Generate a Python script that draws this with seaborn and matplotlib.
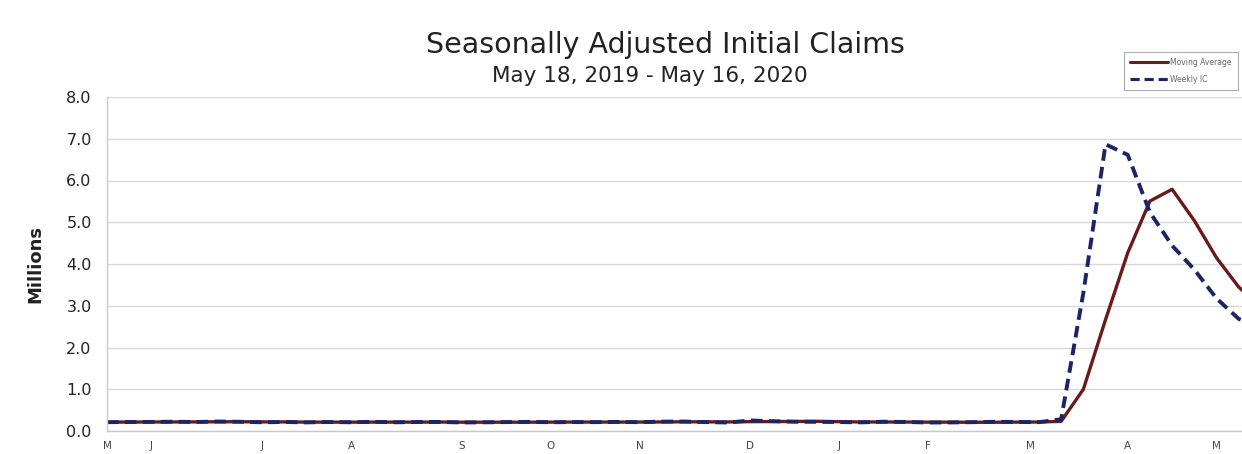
import matplotlib
matplotlib.use("Agg")
import matplotlib.pyplot as plt
import matplotlib.ticker as mticker
from matplotlib.lines import Line2D
import numpy as np
import pandas as pd
import seaborn as sns

# Weekly observations, week ending May 18, 2019 through May 16, 2020 (millions)
weeks = pd.date_range("2019-05-18", "2020-05-16", freq="7D")
weekly_ic = [
    0.211, 0.215, 0.218, 0.222, 0.216, 0.227, 0.221, 0.209, 0.216, 0.206,
    0.215, 0.209, 0.220, 0.209, 0.215, 0.217, 0.204, 0.208, 0.213, 0.219,
    0.210, 0.214, 0.212, 0.218, 0.211, 0.225, 0.227, 0.213, 0.203, 0.252,
    0.235, 0.222, 0.220, 0.214, 0.207, 0.223, 0.216, 0.203, 0.205, 0.211,
    0.220, 0.217, 0.211, 0.282, 3.307, 6.867, 6.615, 5.237, 4.442, 3.867,
    3.176, 2.687, 2.438,
]
moving_avg = [
    0.213, 0.214, 0.216, 0.217, 0.218, 0.221, 0.222, 0.218, 0.218, 0.213,
    0.212, 0.212, 0.213, 0.213, 0.213, 0.215, 0.211, 0.211, 0.211, 0.211,
    0.213, 0.214, 0.214, 0.214, 0.214, 0.217, 0.220, 0.219, 0.217, 0.224,
    0.226, 0.228, 0.232, 0.223, 0.216, 0.216, 0.215, 0.212, 0.212, 0.209,
    0.210, 0.213, 0.215, 0.232, 0.998, 2.667, 4.268, 5.507, 5.790, 5.040,
    4.150, 3.450, 2.950,
]
month_letters = ["M", "J", "J", "A", "S", "O", "N", "D", "J", "F", "M", "A", "M"]
month_weeks = [0, 2, 7, 11, 16, 20, 24, 29, 33, 37, 41.6, 46, 50]
y_ticks = [0, 1, 2, 3, 4, 5, 6, 7, 8]

df = pd.DataFrame({
    "week": np.arange(len(weeks)),
    "Moving Average": moving_avg,
    "Weekly IC": weekly_ic,
}).melt(id_vars="week", var_name="series", value_name="claims")

sns.set_theme(style="white")
plt.rcParams["font.family"] = ["DejaVu Sans"]

fig = plt.figure(figsize=(12.42, 4.54), dpi=100)
ax = fig.add_axes([107 / 1242, 23 / 454, (1242 - 107) / 1242, 334 / 454])

ma_color = "#6b1a1a"
ic_color = "#1c2466"
palette = {"Moving Average": ma_color, "Weekly IC": ic_color}
sns.lineplot(
    data=df, x="week", y="claims", hue="series", style="series",
    palette=palette, dashes={"Moving Average": "", "Weekly IC": (3.0, 1.6)},
    linewidth=2.4, ax=ax, legend=False,
)
for line in ax.lines:
    if line.get_linestyle() == "--":
        line.set_linewidth(2.8)

ax.set_xlim(0, 51.15)
ax.set_ylim(0, 8)
ax.set_yticks(y_ticks)
ax.yaxis.set_major_formatter(mticker.FormatStrFormatter("%.1f"))
ax.tick_params(axis="y", labelsize=11.5, colors="#222222", length=5,
               width=0.8, direction="out", pad=6)
ax.tick_params(axis="y", color="#c0c0c0")
ax.grid(axis="y", color="#d9d9d9", linewidth=1.0)
ax.set_axisbelow(True)

ax.set_xticks(month_weeks)
ax.set_xticklabels(month_letters)
ax.xaxis.set_minor_locator(mticker.MultipleLocator(1))
ax.tick_params(axis="x", which="major", labelsize=7.5, colors="#444444",
               length=4, width=0.8, direction="out", pad=3)
ax.tick_params(axis="x", which="minor", length=4, width=0.6, color="#bbbbbb",
               direction="out")
ax.tick_params(axis="x", which="major", color="#bbbbbb")

for side in ["top", "right"]:
    ax.spines[side].set_visible(False)
ax.spines["left"].set_color("#c8c8d8")
ax.spines["bottom"].set_color("#c8c8c8")
ax.spines["left"].set_linewidth(1.0)
ax.spines["bottom"].set_linewidth(1.0)

ax.set_xlabel("")
ax.set_ylabel("Millions", fontsize=13, fontweight="bold", color="#222222",
              labelpad=16)

fig.text(665 / 1242, 1 - 45 / 454, "Seasonally Adjusted Initial Claims",
         ha="center", va="center", fontsize=20.5, color="#222222")
fig.text(650 / 1242, 1 - 76 / 454, "May 18, 2019 - May 16, 2020",
         ha="center", va="center", fontsize=15.5, color="#222222")

handles = [
    Line2D([], [], color=ma_color, linewidth=2.2),
    Line2D([], [], color=ic_color, linewidth=2.2, dashes=(3.0, 1.6)),
]
leg = fig.legend(handles, ["Moving Average", "Weekly IC"],
                 loc="upper right", bbox_to_anchor=(1238 / 1242, 1 - 52 / 454),
                 fontsize=5.5, frameon=True, fancybox=False, handlelength=5,
                 borderpad=0.8, labelspacing=1.0, handletextpad=0.3,
                 borderaxespad=0)
leg.get_frame().set_edgecolor("#999999")
leg.get_frame().set_linewidth(0.8)
for t in leg.get_texts():
    t.set_color("#666666")

fig.savefig("out.png", dpi=100, facecolor="white")
